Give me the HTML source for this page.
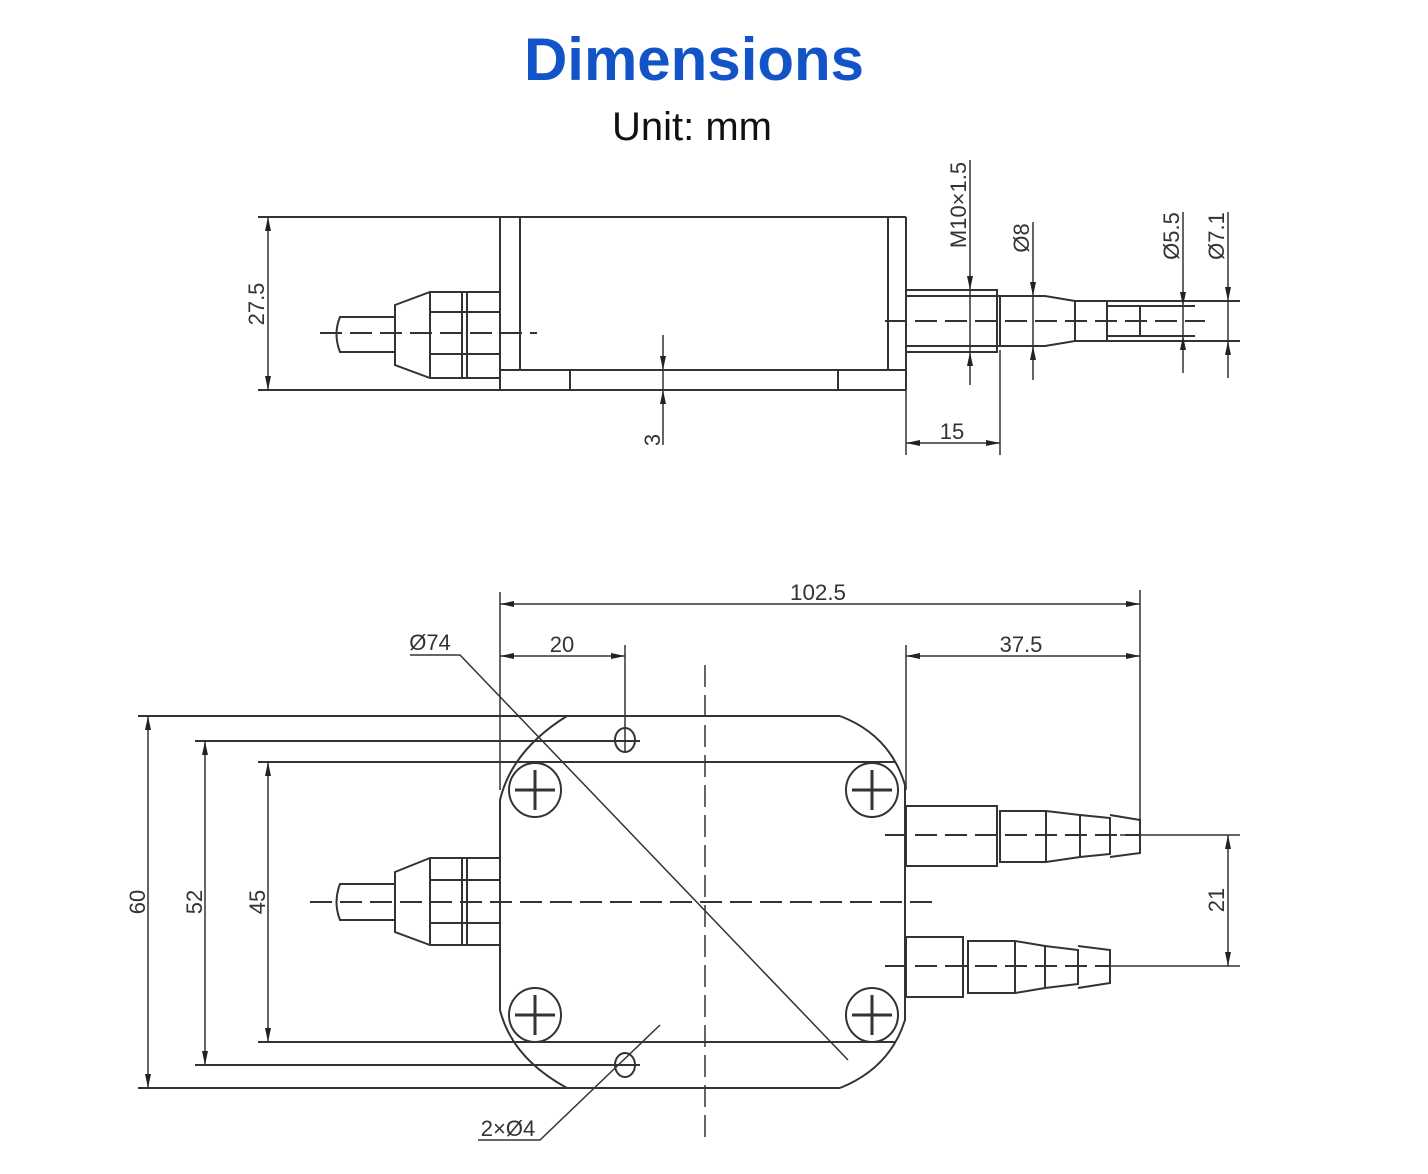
<!DOCTYPE html>
<html><head><meta charset="utf-8"><style>
html,body{margin:0;padding:0;background:#fff;width:1428px;height:1174px;overflow:hidden}
svg{position:absolute;left:0;top:0}
</style></head><body>
<svg width="1428" height="1174" viewBox="0 0 1428 1174" xmlns="http://www.w3.org/2000/svg">
<text x="694" y="80" text-anchor="middle" font-family="Liberation Sans, sans-serif" font-weight="bold" font-size="60" fill="#1254c8">Dimensions</text>
<text x="692" y="140" text-anchor="middle" font-family="Liberation Sans, sans-serif" font-size="40" fill="#111">Unit: mm</text>

<g stroke="#333" stroke-width="2" fill="none">
<!-- TOP VIEW -->
<line x1="258" y1="217" x2="906" y2="217"/>
<line x1="258" y1="390" x2="906" y2="390"/>
<line x1="906" y1="217" x2="906" y2="390"/>
<line x1="888" y1="217" x2="888" y2="370"/>
<line x1="500" y1="217" x2="500" y2="390"/>
<line x1="520" y1="217" x2="520" y2="370"/>
<line x1="500" y1="370" x2="906" y2="370"/>
<line x1="570" y1="370" x2="570" y2="390"/>
<line x1="838" y1="370" x2="838" y2="390"/>
<line x1="268" y1="217" x2="268" y2="390" stroke-width="1.5"/>
<line x1="663" y1="335" x2="663" y2="445" stroke-width="1.5"/>
<!-- left connector top -->
<path d="M395 317 H340 Q333 334 340 352 H395"/>
<path d="M395 305 L430 292 H500 V378 H430 L395 365 Z"/>
<line x1="430" y1="292" x2="430" y2="378"/><line x1="462" y1="292" x2="462" y2="378"/><line x1="467" y1="292" x2="467" y2="378"/>
<line x1="430" y1="312" x2="500" y2="312"/><line x1="430" y1="354" x2="500" y2="354"/>
<line x1="320" y1="333" x2="537" y2="333" stroke-dasharray="22 8"/>
<!-- right tube top -->
<rect x="906" y="290" width="91" height="62"/>
<line x1="906" y1="296" x2="997" y2="296"/><line x1="906" y1="346" x2="997" y2="346"/>
<path d="M997 296 H1045 L1075 301 H1240"/>
<path d="M997 346 H1045 L1075 341 H1240"/>
<line x1="1000" y1="296" x2="1000" y2="346"/><line x1="1075" y1="301" x2="1075" y2="341"/>
<line x1="1107" y1="301" x2="1107" y2="341"/><line x1="1140" y1="306" x2="1140" y2="336"/>
<line x1="1107" y1="306" x2="1195" y2="306"/><line x1="1107" y1="336" x2="1195" y2="336"/>
<line x1="885" y1="321" x2="1205" y2="321" stroke-dasharray="22 8"/>
<g stroke-width="1.5">
<line x1="970" y1="160" x2="970" y2="385"/><line x1="1033" y1="222" x2="1033" y2="380"/>
<line x1="1183" y1="212" x2="1183" y2="373"/><line x1="1228" y1="212" x2="1228" y2="378"/>
<line x1="906" y1="390" x2="906" y2="455"/><line x1="1000" y1="350" x2="1000" y2="455"/>
<line x1="906" y1="443" x2="1000" y2="443"/>
</g>

<!-- BOTTOM VIEW -->
<g stroke-width="1.5">
<line x1="500" y1="592" x2="500" y2="790"/>
<line x1="1140" y1="590" x2="1140" y2="830"/>
<line x1="500" y1="604" x2="1140" y2="604"/>
<line x1="500" y1="656" x2="625" y2="656"/>
<line x1="625" y1="645" x2="625" y2="752"/>
<line x1="906" y1="645" x2="906" y2="790"/>
<line x1="906" y1="656" x2="1140" y2="656"/>
<line x1="148" y1="716" x2="148" y2="1088"/>
<line x1="205" y1="741" x2="205" y2="1065"/>
<line x1="268" y1="762" x2="268" y2="1042"/>
<line x1="1228" y1="835" x2="1228" y2="966"/>
<line x1="1120" y1="835" x2="1240" y2="835"/>
<line x1="1110" y1="966" x2="1240" y2="966"/>
<path d="M410 655 H460 L848 1060"/>
<path d="M478 1140 H540 L660 1025"/>
</g>
<line x1="705" y1="665" x2="705" y2="1140" stroke-width="1.5" stroke-dasharray="22 8"/>
<line x1="138" y1="716" x2="840" y2="716"/>
<line x1="138" y1="1088" x2="840" y2="1088"/>
<line x1="195" y1="741" x2="640" y2="741"/>
<line x1="195" y1="1065" x2="640" y2="1065"/>
<line x1="258" y1="762" x2="895" y2="762"/>
<line x1="258" y1="1042" x2="895" y2="1042"/>
<path d="M840 716 Q890 735 905 785 V1020 Q890 1068 840 1088"/>
<path d="M567 716 Q512 750 500 800 V1010 Q512 1058 567 1088"/>
<g>
<ellipse cx="535" cy="790" rx="26" ry="27"/><ellipse cx="872" cy="790" rx="26" ry="27"/>
<ellipse cx="535" cy="1015" rx="26" ry="27"/><ellipse cx="872" cy="1015" rx="26" ry="27"/>
<path d="M535 770 V810 M515 790 H555 M872 770 V810 M852 790 H892 M535 995 V1035 M515 1015 H555 M872 995 V1035 M852 1015 H892" stroke-width="3"/>
<ellipse cx="625" cy="740" rx="10" ry="12"/><ellipse cx="625" cy="1065" rx="10" ry="12"/>
</g>
<!-- left connector bottom -->
<path d="M395 884 H340 Q333 902 340 920 H395"/>
<path d="M395 872 L430 858 H500 V945 H430 L395 932 Z"/>
<line x1="430" y1="858" x2="430" y2="945"/><line x1="462" y1="858" x2="462" y2="945"/><line x1="467" y1="858" x2="467" y2="945"/>
<line x1="430" y1="880" x2="500" y2="880"/><line x1="430" y1="923" x2="500" y2="923"/>
<line x1="310" y1="902" x2="940" y2="902" stroke-dasharray="22 8"/>
<!-- upper tube -->
<rect x="906" y="806" width="91" height="60"/>
<path d="M1000 811 H1046 L1080 815 V857 L1046 862 H1000 Z"/>
<line x1="1046" y1="811" x2="1046" y2="862"/>
<path d="M1080 815 L1110 818 V854 L1080 857"/>
<path d="M1110 815 L1140 820 V853 L1110 857"/>
<line x1="885" y1="835" x2="1140" y2="835" stroke-dasharray="22 8"/>
<!-- lower tube -->
<rect x="906" y="937" width="57" height="60"/>
<path d="M968 941 H1015 L1045 946 V988 L1015 993 H968 Z"/>
<line x1="1015" y1="941" x2="1015" y2="993"/>
<path d="M1045 946 L1078 950 V984 L1045 988"/>
<path d="M1078 946 L1110 950 V983 L1078 988"/>
<line x1="885" y1="966" x2="1110" y2="966" stroke-dasharray="22 8"/>
</g>
<g fill="#222">
<path d="M500 604 l14 -3 v6z M1140 604 l-14 -3 v6z M500 656 l14 -3 v6z M625 656 l-14 -3 v6z M906 656 l14 -3 v6z M1140 656 l-14 -3 v6z
M148 716 l-3 14 h6z M148 1088 l-3 -14 h6z M205 741 l-3 14 h6z M205 1065 l-3 -14 h6z M268 762 l-3 14 h6z M268 1042 l-3 -14 h6z
M1228 835 l-3 14 h6z M1228 966 l-3 -14 h6z M268 217 l-3 14 h6z M268 390 l-3 -14 h6z M663 370 l-3 -14 h6z M663 390 l-3 14 h6z
M906 443 l14 -3 v6z M1000 443 l-14 -3 v6z M970 290 l-3 -14 h6z M970 352 l-3 14 h6z M1033 296 l-3 -14 h6z M1033 346 l-3 14 h6z
M1183 306 l-3 -14 h6z M1183 336 l-3 14 h6z M1228 301 l-3 -14 h6z M1228 341 l-3 14 h6z"/>
</g>
<g font-family="Liberation Sans Narrow, Liberation Sans, sans-serif" font-size="22" fill="#333">
<text x="818" y="600" text-anchor="middle" textLength="56" lengthAdjust="spacingAndGlyphs">102.5</text>
<text x="562" y="652" text-anchor="middle">20</text>
<text x="1021" y="652" text-anchor="middle">37.5</text>
<text x="430" y="650" text-anchor="middle">Ø74</text>
<text x="508" y="1136" text-anchor="middle">2×Ø4</text>
<text x="952" y="439" text-anchor="middle">15</text>
<text transform="translate(145,902) rotate(-90)" text-anchor="middle">60</text>
<text transform="translate(202,902) rotate(-90)" text-anchor="middle">52</text>
<text transform="translate(265,902) rotate(-90)" text-anchor="middle">45</text>
<text transform="translate(1224,900) rotate(-90)" text-anchor="middle">21</text>
<text transform="translate(264,304) rotate(-90)" text-anchor="middle">27.5</text>
<text transform="translate(660,440) rotate(-90)" text-anchor="middle">3</text>
<text transform="translate(966,205) rotate(-90)" text-anchor="middle">M10×1.5</text>
<text transform="translate(1029,238) rotate(-90)" text-anchor="middle">Ø8</text>
<text transform="translate(1179,236) rotate(-90)" text-anchor="middle">Ø5.5</text>
<text transform="translate(1224,236) rotate(-90)" text-anchor="middle">Ø7.1</text>
</g>
</svg>
</body></html>
